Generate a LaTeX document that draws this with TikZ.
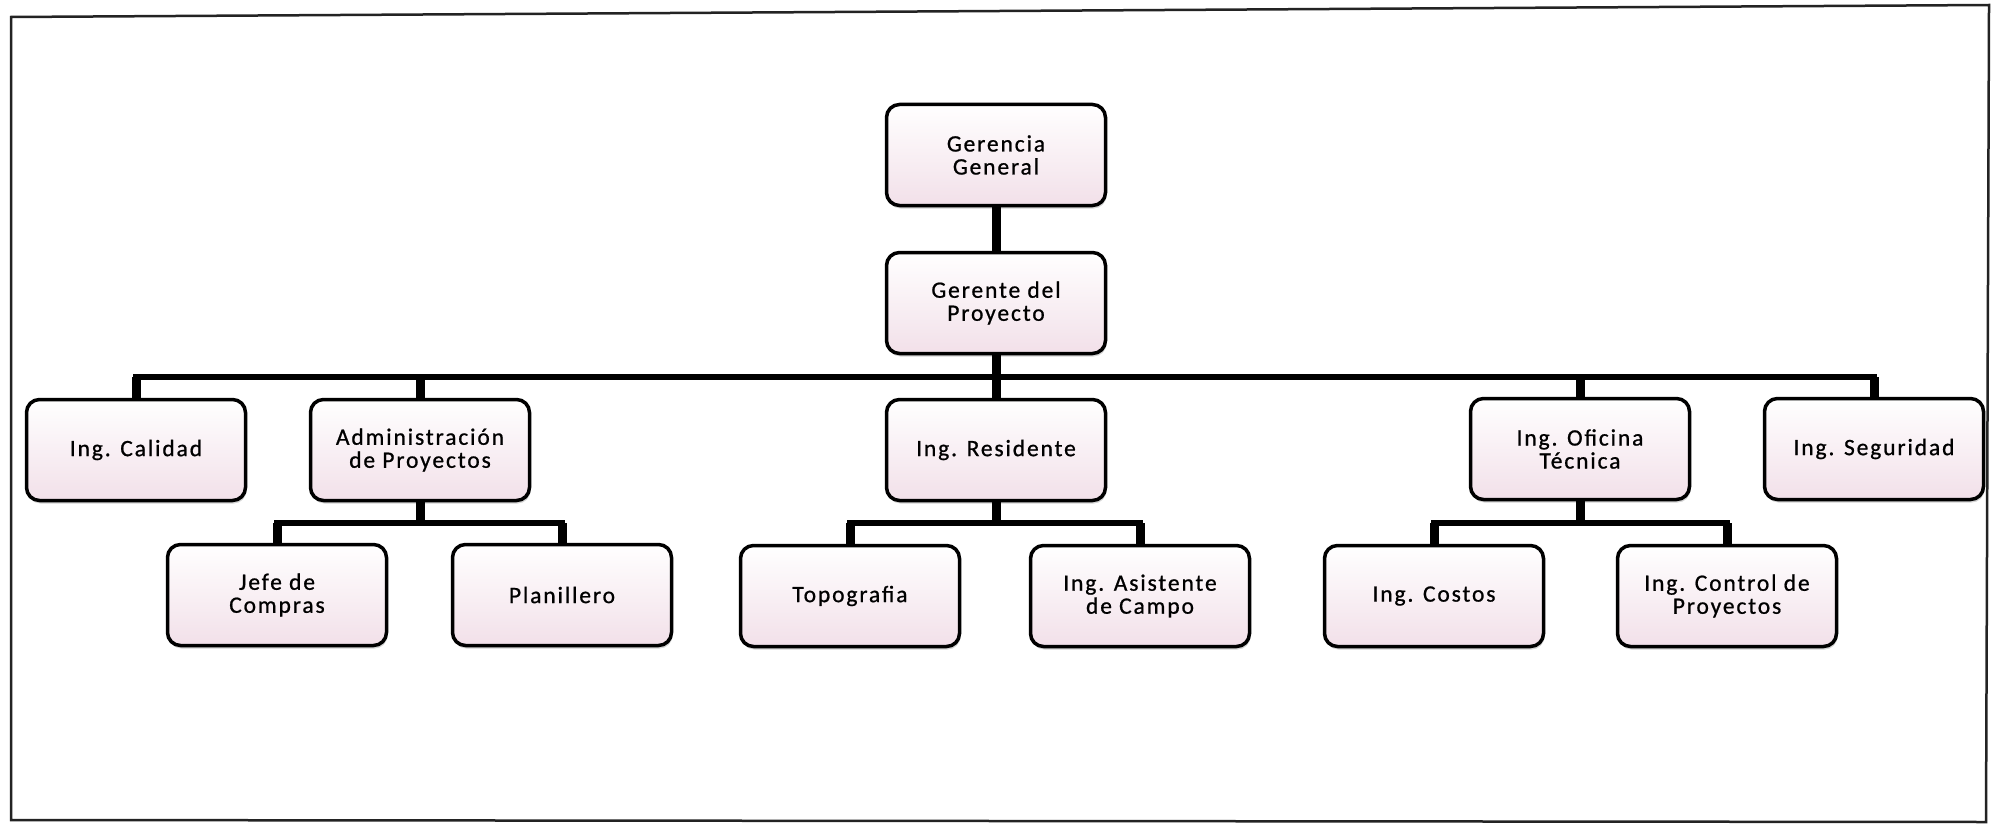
\documentclass[tikz,border=0pt]{standalone}
\usepackage{fontspec}
\newfontfamily\puestofont{Carlito}[LetterSpace=8, FakeBold=0.8]
\usetikzlibrary{shadows}
\definecolor{boxpink}{RGB}{242,224,233}
\definecolor{framegray}{RGB}{35,35,35}
\begin{document}
\begin{tikzpicture}[x=1pt,y=-1pt]
\tikzstyle{every node}+=[font=\puestofont\fontsize{23.5}{23}\selectfont]
\tikzstyle{puesto}=[draw=black, line width=3.5pt, rounded corners=13pt, minimum width=219pt, minimum height=101pt, align=center, top color=white, middle color=white, bottom color=boxpink, drop shadow={opacity=0.35, shadow xshift=1pt, shadow yshift=-3pt}]
\tikzstyle{bus}=[line width=5.5pt, line cap=rect]
\tikzstyle{stub}=[line width=9pt]
\useasboundingbox (0,0) rectangle (1996,824);
\draw [framegray, line width=2.5pt] (11,17) -- (1989,5) -- (1986,822) -- (11,820) -- cycle;
\coordinate (bus) at (0,377);
\coordinate (subbus) at (0,523);
\node [puesto] (gg) at (996,155) {Gerencia\\General};
\node [puesto] (gp) at (996,303) {Gerente del\\Proyecto};
\node [puesto] (cal) at (136,450) {Ing. Calidad};
\node [puesto] (adm) at (420,450) {Administración\\de Proyectos};
\node [puesto] (res) at (996,450) {Ing. Residente};
\node [puesto] (ofi) at (1580,449) {Ing. Oficina\\Técnica};
\node [puesto] (seg) at (1874,449) {Ing. Seguridad};
\node [puesto] (jef) at (277,595) {Jefe de\\Compras};
\node [puesto] (pla) at (562,595) {Planillero};
\node [puesto] (top) at (850,596) {Topografia};
\node [puesto] (asi) at (1140,596) {Ing. Asistente\\de Campo};
\node [puesto] (cos) at (1434,596) {Ing. Costos};
\node [puesto] (con) at (1727,596) {Ing. Control de\\Proyectos};
\draw [stub] (gg.south) -- (gp.north);
\draw [bus] (cal.north |- bus) -- (seg.north |- bus);
\draw [stub] (gp.south) -- (gp.south |- bus);
\draw [stub] (cal.north) -- (cal.north |- bus);
\draw [stub] (adm.north) -- (adm.north |- bus);
\draw [stub] (res.north) -- (res.north |- bus);
\draw [stub] (ofi.north) -- (ofi.north |- bus);
\draw [stub] (seg.north) -- (seg.north |- bus);
\draw [bus] (jef.north |- subbus) -- (pla.north |- subbus);
\draw [stub] (adm.south) -- (adm.south |- subbus);
\draw [stub] (jef.north) -- (jef.north |- subbus);
\draw [stub] (pla.north) -- (pla.north |- subbus);
\draw [bus] (top.north |- subbus) -- (asi.north |- subbus);
\draw [stub] (res.south) -- (res.south |- subbus);
\draw [stub] (top.north) -- (top.north |- subbus);
\draw [stub] (asi.north) -- (asi.north |- subbus);
\draw [bus] (cos.north |- subbus) -- (con.north |- subbus);
\draw [stub] (ofi.south) -- (ofi.south |- subbus);
\draw [stub] (cos.north) -- (cos.north |- subbus);
\draw [stub] (con.north) -- (con.north |- subbus);
\end{tikzpicture}
\end{document}
